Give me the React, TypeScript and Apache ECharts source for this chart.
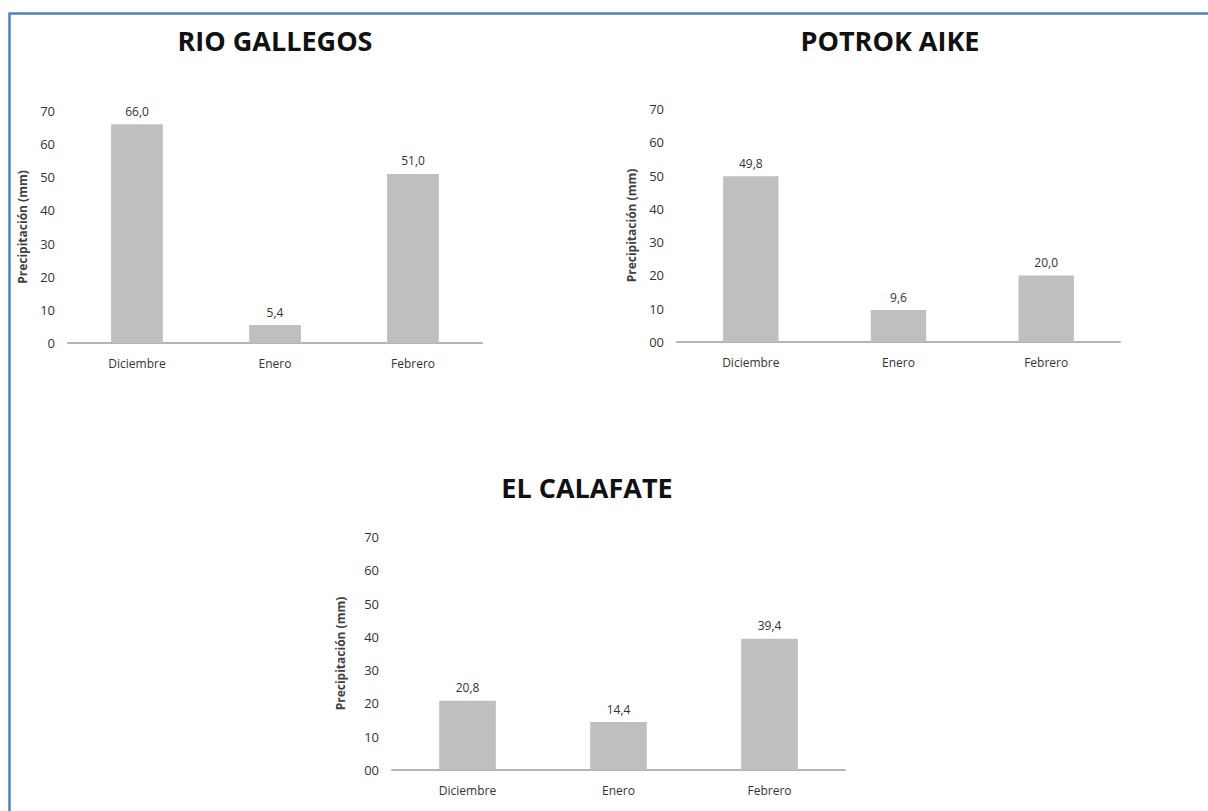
import React, { useEffect, useRef } from "react";
import * as echarts from "echarts";

const categories = ["Diciembre", "Enero", "Febrero"];
const titles = ["RIO GALLEGOS", "POTROK AIKE", "EL CALAFATE"];
const rioGallegos = [66.0, 5.4, 51.0];
const potrokAike = [49.8, 9.6, 20.0];
const elCalafate = [20.8, 14.4, 39.4];
const yTicksRio = ["0", "10", "20", "30", "40", "50", "60", "70"];
const yTicksOther = ["00", "10", "20", "30", "40", "50", "60", "70"];
const yAxisName = "Precipitación (mm)";

export default function App() {
  const ref = useRef<HTMLDivElement>(null);
  useEffect(() => {
    if (!ref.current) return;
    const chart = echarts.init(ref.current, null, { renderer: "svg" });
    const font = "'Open Sans', 'Noto Sans', sans-serif";
    const grids = [
      { left: 68, right: 726, top: 111, bottom: 468 },
      { left: 677, right: 88, top: 109, bottom: 469 },
      { left: 392, right: 363, top: 537, bottom: 41 },
    ];
    const tickSets = [yTicksRio, yTicksOther, yTicksOther];
    const nameGaps = [40, 40, 46];
    const dataSets = [rioGallegos, potrokAike, elCalafate];
    const titlePos = [
      [275, 40],
      [890, 40],
      [587, 487],
    ];
    const option: any = {
      animation: false,
      backgroundColor: "#ffffff",
      grid: grids.map((g) => ({ ...g, containLabel: false })),
      xAxis: grids.map((_, i) => ({
        type: "category",
        gridIndex: i,
        data: categories,
        axisLine: { show: true, lineStyle: { color: "#b4b4b4", width: 2 } },
        axisTick: { show: false },
        axisLabel: { color: "#333333", fontSize: 12, fontFamily: font, margin: 14 },
        splitLine: { show: false },
      })),
      yAxis: grids.map((_, i) => ({
        type: "value",
        gridIndex: i,
        min: 0,
        max: 70,
        interval: 10,
        name: yAxisName,
        nameLocation: "middle",
        nameGap: nameGaps[i],
        nameRotate: 90,
        nameTextStyle: { color: "#404040", fontSize: 12, fontWeight: "bold", fontFamily: font },
        axisLine: { show: false },
        axisTick: { show: false },
        splitLine: { show: false },
        axisLabel: {
          color: "#333333",
          fontSize: 13,
          fontFamily: font,
          margin: 13,
          formatter: (v: number) => tickSets[i][Math.round(v / 10)] ?? String(v),
        },
      })),
      series: dataSets.map((d, i) => ({
        type: "bar",
        xAxisIndex: i,
        yAxisIndex: i,
        data: d,
        barWidth: "37.5%",
        itemStyle: { color: "#bfbfbf" },
        label: {
          show: true,
          position: "top",
          distance: 7,
          color: "#333333",
          fontSize: 12,
          fontFamily: font,
          formatter: (p: any) => Number(p.value).toFixed(1).replace(".", ","),
        },
      })),
      graphic: [
        {
          type: "polyline",
          shape: { points: [[9.5, 811], [9.5, 13.5], [1208, 13.5]] },
          style: { stroke: "#4f81bd", lineWidth: 2.5, fill: "none" },
          silent: true,
        },
        ...titles.map((t, i) => ({
          type: "text",
          x: titlePos[i][0],
          y: titlePos[i][1],
          style: {
            text: t,
            fill: "#111111",
            font: `bold 27px ${font}`,
            textAlign: "center",
            textVerticalAlign: "middle",
          },
        })),
      ],
    };
    chart.setOption(option);
    return () => chart.dispose();
  }, []);
  return (
    <div
      ref={ref}
      style={{ position: "absolute", left: 0, top: 0, width: 1208, height: 811 }}
    />
  );
}
